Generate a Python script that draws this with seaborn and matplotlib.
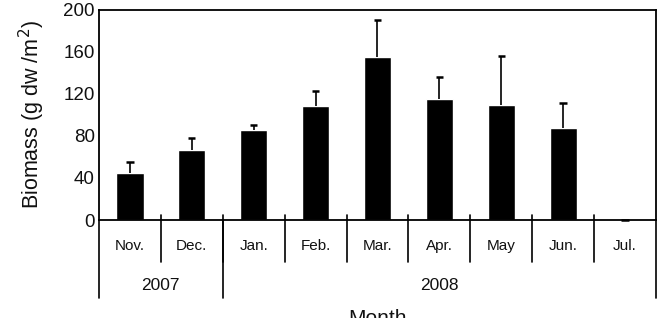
import matplotlib
matplotlib.use("Agg")
import matplotlib.pyplot as plt
import matplotlib.transforms as mtransforms
import seaborn as sns
import numpy as np
import pandas as pd

months = ["Nov.", "Dec.", "Jan.", "Feb.", "Mar.", "Apr.", "May", "Jun.", "Jul."]
years = ["2007", "2008"]
months_per_year = [2, 7]
biomass = [45, 67, 86, 108, 155, 115, 109, 87, 0]
err_up = [10, 11, 4.5, 15, 35, 21, 47, 24, 0]

sns.set_theme(style="white")
plt.rcParams["font.family"] = ["Liberation Sans", "DejaVu Sans"]

df = pd.DataFrame({"month": months, "biomass": biomass})

fig = plt.figure(figsize=(6.64, 3.18), dpi=100)
ax = fig.add_axes([0.149, 0.308, 0.839, 0.662])

sns.barplot(data=df, x="month", y="biomass", color="black", width=0.44,
            errorbar=None, ax=ax, saturation=1)

# upper error bars only
xs = np.arange(len(months))
tops = np.array(biomass) + np.array(err_up)
ax.vlines(xs, biomass, tops, color="black", lw=1.2)
ax.hlines(tops, xs - 0.06, xs + 0.06, color="black", lw=1.8, clip_on=False)

ax.set_xlim(-0.5, len(months) - 0.5)
ax.set_ylim(0, 200)
ax.set_yticks([0, 40, 80, 120, 160, 200])
ax.tick_params(axis="y", labelsize=13.5, length=0, pad=3, colors="#111111")
ax.set_xticks([])
ax.set_xlabel("")
ax.set_ylabel("Biomass (g dw /m$^2$)", fontsize=15.5, labelpad=12, color="#111111")
for sp in ax.spines.values():
    sp.set_color("black")
    sp.set_linewidth(1.3)

trans = mtransforms.blended_transform_factory(ax.transData, ax.transAxes)
lw = 1.2
# month separators
for b in np.arange(0.5, len(months) - 1, 1.0):
    ax.plot([b, b], [0.025, -0.20], color="black", lw=lw, transform=trans, clip_on=False)
for i, m in enumerate(months):
    ax.text(i, -0.125, m, transform=trans, ha="center", va="center",
            fontsize=11, color="#111111")

# year separators and labels
bounds = np.concatenate([[0], np.cumsum(months_per_year)]) - 0.5
for b in bounds:
    ax.plot([b, b], [0, -0.37], color="black", lw=lw, transform=trans, clip_on=False)
for y, lo, hi in zip(years, bounds[:-1], bounds[1:]):
    ax.text((lo + hi) / 2, -0.31, y, transform=trans, ha="center", va="center",
            fontsize=12.5, color="#111111")

ax.text(0.5, -0.47, "Month", transform=ax.transAxes, ha="center", va="center",
        fontsize=15, color="#111111")

fig.savefig("out.png", dpi=100)
